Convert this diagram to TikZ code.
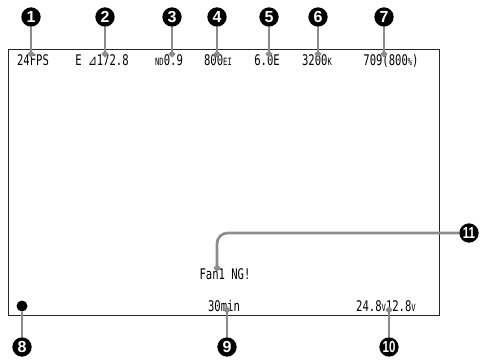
\documentclass[tikz,border=0pt]{standalone}
\usepackage{fontspec}
\usetikzlibrary{arrows.meta}
\newfontfamily\lcdfont[FakeStretch=0.72]{DejaVu Sans Mono}
\newfontfamily\symfont[FakeStretch=0.72]{DejaVu Sans}
\newfontfamily\numfont{Liberation Sans}
\newfontfamily\numfontc[FakeStretch=0.72]{Liberation Sans}
\newcommand{\sm}[1]{{\fontsize{7.5}{8}\selectfont #1}}
\tikzset{
  readout/.style={font=\lcdfont\fontsize{11}{12}\selectfont, anchor=base, inner sep=0pt},
  callout/.style={circle, fill=black, text=white, minimum size=14.5pt, inner sep=0pt,
    font=\numfont\bfseries\fontsize{12}{12}\selectfont},
  calloutw/.style={callout, font=\numfontc\bfseries\fontsize{12}{12}\selectfont},
  stem/.style={draw=black!45, line width=2pt},
  lead/.style={stem, -{Circle[length=4.5pt]}},
}
\begin{document}
\begin{tikzpicture}[x=0.75pt,y=0.75pt]
\useasboundingbox (0,0) rectangle (481,361);
% monitor frame
\draw[line width=0.75pt, black!85] (8,46) rectangle (439,311);
% readouts, top row
\node[readout] (t1) at (33,295) {24FPS};
\node[readout] (t2) at (102,295) {E {\symfont ⊿}172.8};
\node[readout] (t3) at (169,295) {\sm{ND}0.9};
\node[readout] (t4) at (218,295) {800\sm{EI}};
\node[readout] (t5) at (267,295) {6.0E};
\node[readout] (t6) at (317,295) {3200\sm{K}};
\node[readout] (t7) at (391,295) {709(800\sm{\%})};
% readouts, lower part
\node[readout] (t11) at (225,82) {Fan1 NG!};
\node[readout] (t9) at (224,50) {30min};
\node[readout] (t10) at (386,50) {24.8\sm{V}12.8\sm{V}};
\node[circle, fill=black, minimum size=8.25pt, inner sep=0pt] (d8) at (22,55) {};
% callouts
\node[callout] (n1) at (31,344) {1};
\node[callout] (n2) at (105,344) {2};
\node[callout] (n3) at (172,344) {3};
\node[callout] (n4) at (217,344) {4};
\node[callout] (n5) at (269,344) {5};
\node[callout] (n6) at (318,344) {6};
\node[callout] (n7) at (384,344) {7};
\node[callout] (n8) at (22,14) {8};
\node[callout] (n9) at (227,14) {9};
\node[calloutw] (n10) at (389,14) {10};
\node[calloutw] (n11) at (469,128) {11};
% leader ends
\coordinate (p1) at (31,304);
\coordinate (p2) at (105,304);
\coordinate (p3) at (172,304);
\coordinate (p4) at (217,304);
\coordinate (p5) at (269,304);
\coordinate (p6) at (318,304);
\coordinate (p7) at (384,304);
\coordinate (p9) at (227,54);
\coordinate (p10) at (389,54);
\coordinate (p11) at (217,90);
% leaders
\foreach \i in {1,...,7} {\draw[lead] (n\i) -- (p\i);}
\draw[lead] (n9) -- (p9);
\draw[lead] (n10) -- (p10);
\draw[lead, rounded corners=8pt] (n11) -| (p11);
\draw[stem] (n8) -- (d8);
\end{tikzpicture}
\end{document}
